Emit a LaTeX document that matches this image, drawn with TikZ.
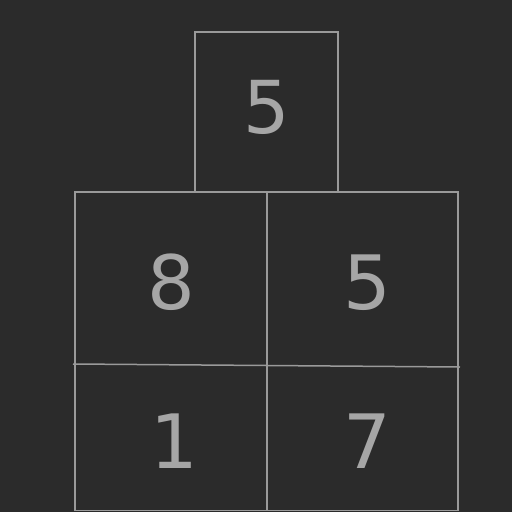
\documentclass[tikz,border=0pt]{standalone}
\usepackage{fontspec}
\setmainfont{DejaVu Sans}
\definecolor{bgc}{HTML}{2B2B2B}
\definecolor{linec}{HTML}{9A9A9A}
\definecolor{txtc}{HTML}{A6A6A6}
\begin{document}
\begin{tikzpicture}[x=1pt,y=-1pt,
  cell/.style={draw=linec,line width=1.5pt},
  num/.style={text=txtc,font=\fontsize{75}{75}\selectfont,anchor=base,inner sep=0pt}]
\fill[bgc] (0,0) rectangle (512,512);
\useasboundingbox (0,0) rectangle (512,512);
% cells
\draw[cell] (195,192) -- (195,32) -- (338,32) -- (338,192);
\draw[cell] (75,510.5) -- (75,192) -- (458,192) -- (458,510.5);
\draw[cell] (267,192) -- (267,510.5);
\draw[cell] (73,364) -- (460,367);
\draw[cell] (75,510.5) -- (458,510.5);
% numbers
\node[num,font=\fontsize{73}{73}\selectfont] (t) at (266.5,133) {5};
\node[num] (a) at (171.5,309) {8};
\node[num] (b) at (367.5,309) {5};
\node[num] (c) at (174.5,468) {1};
\node[num] (d) at (367,468) {7};
\end{tikzpicture}
\end{document}
